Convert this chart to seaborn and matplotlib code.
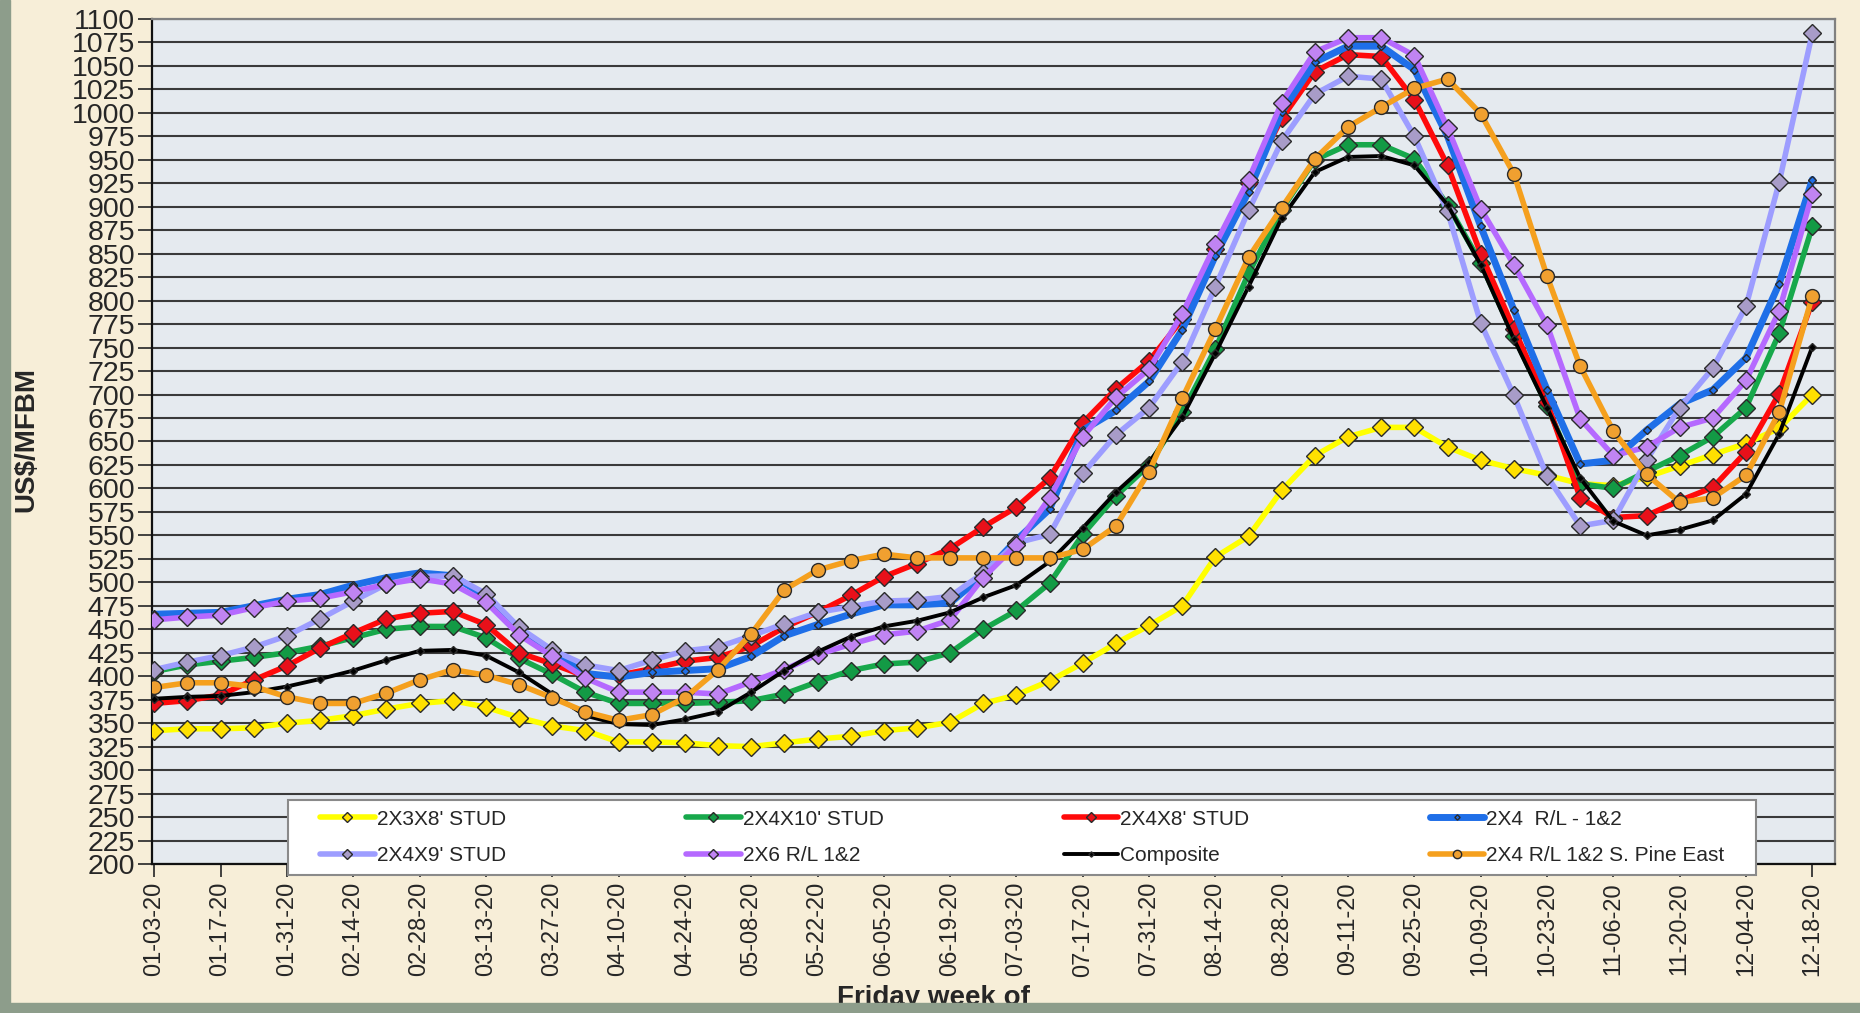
import pandas as pd
import seaborn as sns
import matplotlib.pyplot as plt
from matplotlib.patches import Rectangle

# Friday weeks of 2020
weeks = pd.date_range("2020-01-03", periods=51, freq="7D").strftime("%m-%d-%y").tolist()

# US$/MFBM
stud_2x3x8 = [342, 344, 344, 345, 350, 353, 358, 365, 371, 374, 367, 356, 347, 342,
              330, 330, 329, 326, 325, 329, 333, 336, 342, 345, 351, 371, 380, 395, 414,
              435, 454, 475, 527, 549, 598, 635, 655, 665, 665, 644, 630, 621, 614, 605,
              603, 612, 624, 636, 648, 664, 700]
stud_2x4x10 = [405, 412, 416, 420, 425, 432, 441, 450, 453, 453, 441, 419, 402, 383,
               371, 371, 371, 372, 374, 381, 394, 406, 413, 415, 425, 450, 470, 499, 551,
               592, 625, 681, 749, 829, 897, 950, 966, 966, 951, 902, 840, 762, 688, 605,
               600, 618, 635, 655, 686, 765, 879]
stud_2x4x8 = [371, 374, 380, 396, 411, 430, 446, 461, 467, 469, 455, 425, 413, 400,
              401, 408, 416, 420, 432, 452, 468, 486, 506, 520, 536, 559, 580, 611, 670,
              706, 736, 780, 855, 925, 994, 1044, 1062, 1060, 1014, 944, 850, 770, 692, 590,
              569, 571, 587, 601, 639, 701, 799]
rl_2x4 = [466, 467, 468, 475, 482, 487, 497, 505, 510, 507, 485, 450, 425, 403,
          399, 404, 406, 408, 421, 443, 455, 466, 476, 476, 478, 508, 545, 578, 662,
          683, 714, 769, 848, 916, 1001, 1054, 1071, 1071, 1046, 975, 879, 790, 705, 626,
          630, 662, 690, 705, 739, 818, 929]
stud_2x4x9 = [407, 415, 422, 431, 443, 461, 480, 498, 506, 507, 488, 452, 428, 412,
              406, 417, 427, 431, 443, 456, 468, 474, 480, 481, 485, 510, 542, 551, 616,
              657, 686, 735, 815, 896, 970, 1020, 1039, 1036, 975, 895, 776, 699, 613, 560,
              566, 630, 686, 728, 794, 926, 1085]
rl_2x6 = [460, 463, 465, 473, 480, 483, 490, 498, 504, 498, 479, 444, 421, 398,
          383, 383, 383, 381, 394, 407, 423, 434, 444, 448, 460, 505, 540, 590, 655,
          697, 727, 786, 860, 929, 1011, 1065, 1080, 1080, 1061, 984, 898, 838, 774, 674,
          635, 644, 665, 675, 715, 789, 914]
composite = [376, 378, 379, 383, 389, 397, 406, 417, 427, 428, 422, 404, 381, 358,
             349, 348, 354, 362, 383, 406, 426, 442, 453, 459, 468, 484, 497, 522, 558,
             596, 628, 676, 744, 815, 888, 937, 953, 954, 944, 902, 838, 759, 686, 611,
             565, 550, 556, 566, 594, 658, 751]
spine_east = [388, 393, 393, 389, 378, 371, 371, 382, 396, 407, 401, 391, 377, 362,
              353, 359, 377, 407, 445, 492, 513, 523, 530, 526, 526, 526, 526, 526, 535,
              560, 618, 696, 770, 846, 899, 951, 985, 1006, 1026, 1036, 999, 935, 826, 730,
              661, 615, 585, 590, 614, 681, 805]

series = [
    ("2X3X8' STUD", stud_2x3x8, "#ffff00", "D", "#ffe000", 9, 4.0),
    ("2X4X10' STUD", stud_2x4x10, "#17a84b", "D", "#139a45", 9, 4.0),
    ("2X4X8' STUD", stud_2x4x8, "#ff0a0a", "D", "#e8101a", 9, 4.0),
    ("2X4  R/L - 1&2", rl_2x4, "#1f6fe8", "D", "#1f6fe8", 4.5, 5.0),
    ("2X4X9' STUD", stud_2x4x9, "#9d9dff", "D", "#a89cc8", 9, 4.0),
    ("2X6 R/L 1&2", rl_2x6, "#b569ff", "D", "#c084f2", 9, 4.0),
    ("Composite", composite, "#000000", "D", "#000000", 4.5, 2.8),
    ("2X4 R/L 1&2 S. Pine East", spine_east, "#f5a01e", "o", "#f0a030", 10, 4.0),
]

sns.set_theme(style="white")
plt.rcParams["font.family"] = ["Liberation Sans", "DejaVu Sans"]

fig = plt.figure(figsize=(18.6, 10.13), dpi=100, facecolor="#f7eed8")
ax = fig.add_axes([0.0817, 0.1471, 0.9048, 0.8342])
ax.set_facecolor("#e5eaef")

x = list(range(len(weeks)))
for name, vals, col, mk, face, ms, lw in series:
    sns.lineplot(x=x, y=vals, color=col, lw=lw, marker=mk, markersize=ms,
                 markerfacecolor=face, markeredgecolor="#2a2a2a", markeredgewidth=1.0,
                 label=name, ax=ax, zorder=3)

ax.set_ylim(200, 1100)
ax.set_xlim(-0.07, 50.68)
ax.set_yticks(range(200, 1101, 25))
ax.set_xticks(range(0, 51, 2))
ax.set_xticklabels(weeks[::2], rotation=90)
ax.grid(axis="y", color="#3a3a3a", lw=1.5)
ax.grid(axis="x", visible=False)
ax.set_axisbelow(True)
ax.tick_params(axis="y", direction="out", length=10, width=1.3, color="#333333",
               labelsize=20.5, pad=2, left=True)
ax.tick_params(axis="x", direction="out", length=9, width=1.3, color="#333333",
               labelsize=17, pad=4, bottom=True)
ax.set_xlabel("")
ax.set_ylabel("")
for side in ["left", "bottom"]:
    ax.spines[side].set_color("#111111")
    ax.spines[side].set_linewidth(1.6)
for side in ["top", "right"]:
    ax.spines[side].set_color("#808080")
    ax.spines[side].set_linewidth(1.6)

# white legend box
ax.add_patch(Rectangle((0.0808, -0.0136), 0.8723, 0.0899, transform=ax.transAxes,
                       facecolor="white", edgecolor="#8a8a8a", lw=1.5,
                       clip_on=False, zorder=4))

# legend: row-wise order in 4 columns
h, l = ax.get_legend_handles_labels()
order = [0, 4, 1, 5, 2, 6, 3, 7]
leg = ax.legend([h[i] for i in order], [l[i] for i in order], ncol=4,
                loc="center", bbox_to_anchor=(0.0951, -0.0136, 0.8443, 0.0899),
                mode="expand", fontsize=15, frameon=False,
                markerscale=0.6, handlelength=2.6, handletextpad=0.1,
                borderaxespad=0, labelspacing=0.85)
leg.set_zorder(5)

fig.text(0.014, 0.566, "US$/MFBM", rotation=90, fontsize=20, fontweight="bold",
         ha="center", va="center")
fig.text(0.502, 0.028, "Friday week of", fontsize=20, fontweight="bold",
         ha="center", va="top", zorder=5)

# sage border strips
fig.patches.append(Rectangle((0, 0), 10 / 1860, 1, transform=fig.transFigure,
                             color="#8d9d8b", zorder=10))
fig.patches.append(Rectangle((0, 0), 1, 10 / 1013, transform=fig.transFigure,
                             color="#8d9d8b", zorder=10))

fig.savefig("out.png", dpi=100, facecolor=fig.get_facecolor())
